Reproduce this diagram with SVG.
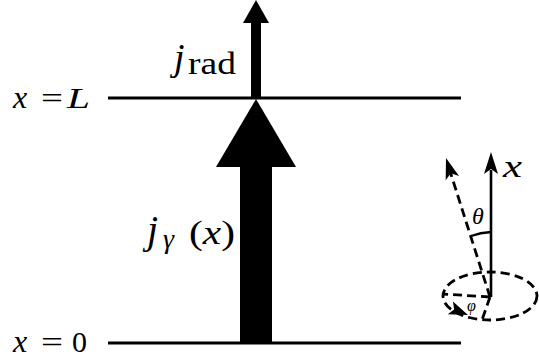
<svg xmlns="http://www.w3.org/2000/svg" width="539" height="364" viewBox="0 0 539 364">
<style>
text{font-family:"Liberation Serif","DejaVu Serif",serif;fill:#000}
.it{font-style:italic}
.ln{stroke:#000;stroke-width:3;fill:none}
.ds{stroke:#000;stroke-width:2.8;fill:none;stroke-dasharray:9 5}
</style>
<rect width="539" height="364" fill="#fff"/>
<g id="connectors">
<line class="ln" x1="108" y1="98" x2="461" y2="98"/>
<line class="ln" x1="108" y1="343" x2="461" y2="343"/>
</g>
<g id="jrad-arrow">
<rect x="251" y="22" width="10" height="77" fill="#000"/>
<polygon points="256,0 243,23 269,23" fill="#000"/>
</g>
<g id="jgamma-arrow">
<rect x="240" y="165" width="32" height="178" fill="#000"/>
<polygon points="256,99 216,167 296,167" fill="#000"/>
</g>
<g id="labels">
<text x="13" y="108" font-size="32" class="it">x</text>
<text x="41" y="108" font-size="29" textLength="22" lengthAdjust="spacingAndGlyphs">=</text>
<text x="67" y="108" font-size="30" class="it" textLength="23" lengthAdjust="spacingAndGlyphs">L</text>
<text x="13" y="352" font-size="32" class="it">x</text>
<text x="41" y="352" font-size="29" textLength="22" lengthAdjust="spacingAndGlyphs">=</text>
<text x="72" y="352" font-size="30">0</text>
<text x="174" y="70" font-size="38" class="it">j</text>
<text x="188" y="74" font-size="31" textLength="48" lengthAdjust="spacingAndGlyphs">rad</text>
<text x="147" y="243" font-size="40" class="it">j</text>
<text x="163" y="248" font-size="28" class="it">γ</text>
<text x="189" y="244" font-size="33" textLength="46" lengthAdjust="spacingAndGlyphs">(<tspan class="it">x</tspan>)</text>
</g>
<g id="angle-sketch">
<ellipse class="ds" cx="490" cy="296" rx="47" ry="24"/>
<line x1="491" y1="297" x2="491" y2="170" stroke="#000" stroke-width="2.6"/>
<path d="M491,152 L498,174 L491,169 L484,174 Z" fill="#000"/>
<line class="ds" x1="490" y1="297" x2="449" y2="168"/>
<path d="M0,0 L7,21 L0,16 L-7,21 Z" fill="#000" transform="translate(446,158) rotate(-17.6)"/>
<line class="ds" x1="490" y1="297" x2="443" y2="294"/>
<line class="ds" x1="490" y1="297" x2="482" y2="320"/>
<path d="M0,0 L-19,-7 L-15,0 L-19,7 Z" fill="#000" transform="translate(468,315) rotate(22)"/>
<path d="M471,236 A 64 64 0 0 1 491 232" stroke="#000" stroke-width="2.4" fill="none"/>
<text x="472" y="224" font-size="24" class="it">θ</text>
<text x="467" y="311" font-size="16" class="it">φ</text>
<text x="503" y="177" font-size="32" class="it" textLength="19" lengthAdjust="spacingAndGlyphs">x</text>
</g>
</svg>
